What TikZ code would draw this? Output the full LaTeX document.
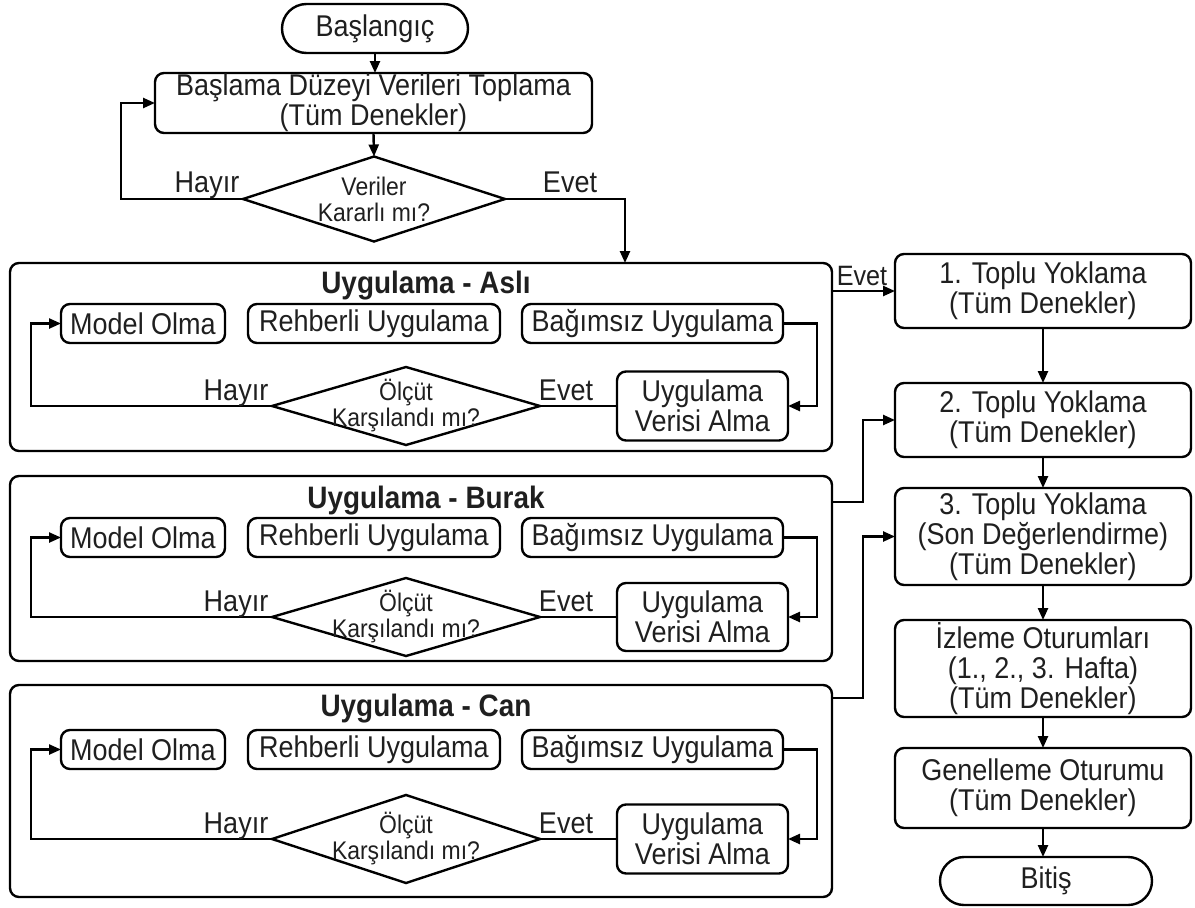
\documentclass[tikz,border=0pt]{standalone}
\usepackage{fontspec}
\setmainfont{Liberation Sans}[FakeStretch=0.9]
\usetikzlibrary{arrows.meta,shapes.geometric,shapes.misc,calc}
\begin{document}
\begin{tikzpicture}[x=1pt,y=-1pt,
  every node/.style={inner sep=0pt,outer sep=0pt},
  txt/.style={font=\fontsize{30}{30}\selectfont,align=center,text=black!88},
  box/.style={txt,draw,line width=2.4pt,rounded corners=9pt},
  sbox/.style={box,minimum height=39pt},
  rbox/.style={box,minimum width=296pt},
  term/.style={txt,draw,line width=2.4pt,rounded rectangle},
  panel/.style={draw,line width=2.4pt,rounded corners=9pt,minimum width=822pt},
  dia/.style={draw,diamond,line width=2.4pt},
  dtxt/.style={font=\fontsize{25.5}{26}\selectfont,align=center,text=black!88},
  ttl/.style={font=\fontsize{31}{31}\selectfont\bfseries,anchor=base,text=black!88},
  lbl/.style={txt,anchor=base},
  conn/.style={line width=2.4pt},
  arr/.style={conn,-{Triangle[length=12pt,width=10pt]}}
]
\useasboundingbox (0,0) rectangle (1195,908);

% ---------- top ----------
\node[term,minimum width=186pt,minimum height=49pt] (start) at (375,28.5) {Başlangıç};
\node[box,minimum width=437pt,minimum height=60pt] (b1) at (373.5,103) {Başlama Düzeyi Verileri Toplama\\(Tüm Denekler)};
\node[dia,minimum width=262pt,minimum height=85pt] (d1) at (374,199) {};
\node[dtxt] at (d1) {Veriler\\Kararlı mı?};
\draw[arr] (start.south) -- (start.south |- b1.north);
\draw[arr] (b1.south) -- (d1.north);
\draw[arr] (d1.west) -- ++(-122,0) |- (b1.west);
\node[lbl] at (207,192) {Hayır};
\node[lbl] at (570,192) {Evet};

% ---------- panel A ----------
\node[panel,minimum height=188pt] (pA) at (421,357) {};
\node[ttl] at (426,293) {Uygulama - Aslı};
\node[sbox,minimum width=164pt] (moA) at (143,323.5) {Model Olma};
\node[sbox,minimum width=252pt] (rbA) at (374,323.5) {Rehberli Uygulama};
\node[sbox,minimum width=261pt] (buA) at (652.5,323.5) {Bağımsız Uygulama};
\node[box,minimum width=171pt,minimum height=69pt] (uvA) at (702.5,406) {Uygulama\\Verisi Alma};
\node[dia,minimum width=268pt,minimum height=78pt] (dA) at (406,406) {};
\node[dtxt] at (dA) {Ölçüt\\Karşılandı mı?};
\draw[arr] (buA.east) -- ++(34,0) |- (uvA.east);
\draw[conn] (uvA.west) -- (dA.east);
\draw[arr] (dA.west) -- ++(-241,0) |- (moA.west);
\node[lbl] at (236,400) {Hayır};
\node[lbl] at (566,400) {Evet};
\draw[arr] (d1.east) -| ($(pA.north west)+(615,0)$);

% ---------- panel B ----------
\node[panel,minimum height=185pt] (pB) at (421,568.5) {};
\node[ttl] at (426,508) {Uygulama - Burak};
\node[sbox,minimum width=164pt] (moB) at (143,537.5) {Model Olma};
\node[sbox,minimum width=252pt] (rbB) at (374,537.5) {Rehberli Uygulama};
\node[sbox,minimum width=261pt] (buB) at (652.5,537.5) {Bağımsız Uygulama};
\node[box,minimum width=171pt,minimum height=68pt] (uvB) at (702.5,617) {Uygulama\\Verisi Alma};
\node[dia,minimum width=268pt,minimum height=78pt] (dB) at (406,617) {};
\node[dtxt] at (dB) {Ölçüt\\Karşılandı mı?};
\draw[arr] (buB.east) -- ++(34,0) |- (uvB.east);
\draw[conn] (uvB.west) -- (dB.east);
\draw[arr] (dB.west) -- ++(-241,0) |- (moB.west);
\node[lbl] at (236,611) {Hayır};
\node[lbl] at (566,611) {Evet};

% ---------- panel C ----------
\node[panel,minimum height=212pt] (pC) at (421,791) {};
\node[ttl] at (426,716) {Uygulama - Can};
\node[sbox,minimum width=164pt] (moC) at (143,749.5) {Model Olma};
\node[sbox,minimum width=252pt] (rbC) at (374,749.5) {Rehberli Uygulama};
\node[sbox,minimum width=261pt] (buC) at (652.5,749.5) {Bağımsız Uygulama};
\node[box,minimum width=171pt,minimum height=69pt] (uvC) at (702.5,839) {Uygulama\\Verisi Alma};
\node[dia,minimum width=268pt,minimum height=88pt] (dC) at (406,839) {};
\node[dtxt] at (dC) {Ölçüt\\Karşılandı mı?};
\draw[arr] (buC.east) -- ++(34,0) |- (uvC.east);
\draw[conn] (uvC.west) -- (dC.east);
\draw[arr] (dC.west) -- ++(-241,0) |- (moC.west);
\node[lbl] at (236,833) {Hayır};
\node[lbl] at (566,833) {Evet};

% ---------- right column ----------
\node[rbox,minimum height=74pt] (r1) at (1043,291) {1. Toplu Yoklama\\(Tüm Denekler)};
\node[rbox,minimum height=74pt] (r2) at (1043,420) {2. Toplu Yoklama\\(Tüm Denekler)};
\node[rbox,minimum height=97pt] (r3) at (1043,536.5) {3. Toplu Yoklama\\(Son Değerlendirme)\\(Tüm Denekler)};
\node[rbox,minimum height=97pt] (r4) at (1043,668.5) {İzleme Oturumları\\(1., 2., 3. Hafta)\\(Tüm Denekler)};
\node[rbox,minimum height=80pt] (r5) at (1043,788) {Genelleme Oturumu\\(Tüm Denekler)};
\node[term,minimum width=212pt,minimum height=48pt] (fin) at (1046,881) {Bitiş};
\draw[arr] (r1.south) -- (r2.north);
\draw[arr] (r2.south) -- (r3.north);
\draw[arr] (r3.south) -- (r4.north);
\draw[arr] (r4.south) -- (r5.north);
\draw[arr] (r5.south) -- (r5.south |- fin.north);

\draw[arr] (r1.west -| pA.east) -- (r1.west);
\node[lbl,font=\fontsize{28}{28}\selectfont] at (862,285) {Evet};
\draw[arr] ($(pB.north east)+(0,26)$) -- ++(31,0) |- (r2.west);
\draw[arr] ($(pC.north east)+(0,13)$) -- ++(31,0) |- (r3.west);
\end{tikzpicture}
\end{document}
